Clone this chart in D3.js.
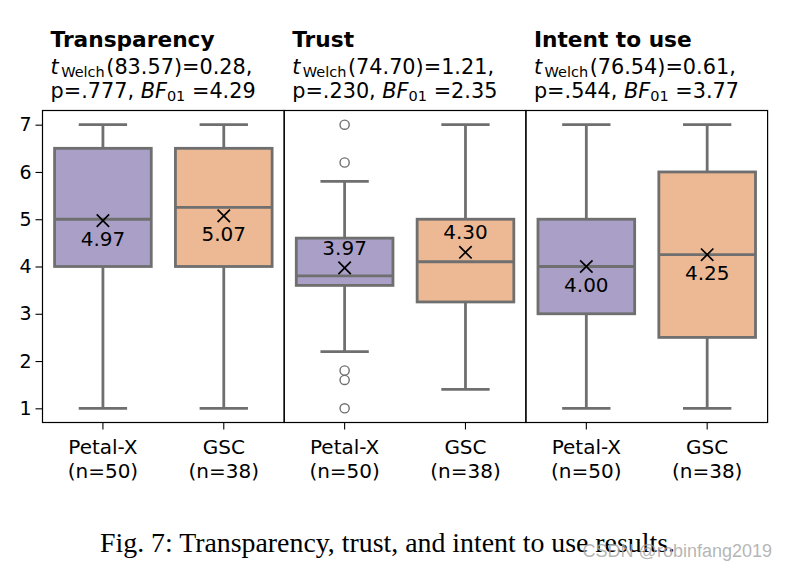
<!DOCTYPE html>
<html>
<head>
<meta charset="utf-8">
<script src="https://cdn.jsdelivr.net/npm/d3@7"></script>
<style>
  html, body { margin: 0; padding: 0; background: #ffffff; }
  svg { display: block; }
</style>
</head>
<body>
<svg id="chart" width="788" height="571"></svg>
<script>
// ---- data ----
const metrics = ["Transparency", "Trust", "Intent to use"];
const groups = ["Petal-X", "GSC"];
const groupN = [50, 38];
const welchDf = ["83.57", "74.70", "76.54"];
const welchT = ["0.28", "1.21", "0.61"];
const pValues = [".777", ".230", ".544"];
const bf01 = ["4.29", "2.35", "3.77"];
// per metric: [Petal-X, GSC]
const whiskerLow  = [[1, 1],     [2.2, 1.4],  [1, 1]];
const q1Values    = [[4, 4],     [3.6, 3.25], [3, 2.5]];
const medians     = [[5, 5.25],  [3.8, 4.1],  [4, 4.25]];
const q3Values    = [[6.5, 6.5], [4.6, 5.0],  [5, 6]];
const whiskerHigh = [[7, 7],     [5.8, 7],    [7, 7]];
const means       = [[4.97, 5.07], [3.97, 4.30], [4.00, 4.25]];
const outliers    = [[[], []], [[7, 6.2, 1.8, 1.6, 1.0], []], [[], []]];
const meanLabelAbove = [false, true, false];
const yTicks = [1, 2, 3, 4, 5, 6, 7];

// ---- layout ----
const svg = d3.select("#chart");
const colors = ["#aaa0c7", "#ecb994"];
const lineCol = "#6f6f6f";
const plotTop = 110.5, plotBottom = 422.5;
const left0 = 42.5, panelW = 241.7;

const y = d3.scaleLinear().domain([0.7, 7.3]).range([plotBottom, plotTop]);
const panelX = d3.scaleBand().domain(metrics).range([left0, left0 + 3 * panelW]).padding(0);

const fontSans = "'DejaVu Sans', sans-serif";

metrics.forEach((m, mi) => {
  const px = panelX(m);
  const x = d3.scaleBand().domain(groups).range([px, px + panelW]).padding(0);
  const bw = x.bandwidth() * 0.8;
  const g = svg.append("g");

  groups.forEach((grp, gi) => {
    const cx = x(grp) + x.bandwidth() / 2;
    const capW = bw / 2;
    g.append("line").attr("x1", cx).attr("x2", cx)
      .attr("y1", y(whiskerLow[mi][gi])).attr("y2", y(q1Values[mi][gi]))
      .attr("stroke", lineCol).attr("stroke-width", 2.8);
    g.append("line").attr("x1", cx).attr("x2", cx)
      .attr("y1", y(q3Values[mi][gi])).attr("y2", y(whiskerHigh[mi][gi]))
      .attr("stroke", lineCol).attr("stroke-width", 2.8);
    [whiskerLow[mi][gi], whiskerHigh[mi][gi]].forEach(v => {
      g.append("line").attr("x1", cx - capW / 2).attr("x2", cx + capW / 2)
        .attr("y1", y(v)).attr("y2", y(v))
        .attr("stroke", lineCol).attr("stroke-width", 2.8);
    });
    g.append("rect")
      .attr("x", cx - bw / 2).attr("width", bw)
      .attr("y", y(q3Values[mi][gi]))
      .attr("height", y(q1Values[mi][gi]) - y(q3Values[mi][gi]))
      .attr("fill", colors[gi]).attr("stroke", lineCol).attr("stroke-width", 2.8);
    g.append("line").attr("x1", cx - bw / 2).attr("x2", cx + bw / 2)
      .attr("y1", y(medians[mi][gi])).attr("y2", y(medians[mi][gi]))
      .attr("stroke", lineCol).attr("stroke-width", 2.8);
    outliers[mi][gi].forEach(v => {
      g.append("circle").attr("cx", cx).attr("cy", y(v)).attr("r", 4.6)
        .attr("fill", "none").attr("stroke", lineCol).attr("stroke-width", 1.4);
    });
    const my = y(means[mi][gi]);
    const s = 6.2;
    g.append("path")
      .attr("d", `M${cx - s},${my - s}L${cx + s},${my + s}M${cx - s},${my + s}L${cx + s},${my - s}`)
      .attr("stroke", "#000").attr("stroke-width", 1.7).attr("fill", "none");
    g.append("text")
      .attr("x", cx)
      .attr("y", meanLabelAbove[mi] ? my - 13 : my + 25.5)
      .attr("text-anchor", "middle")
      .attr("font-family", fontSans).attr("font-size", 20)
      .attr("fill", "#000")
      .text(means[mi][gi].toFixed(2));

    g.append("line").attr("x1", cx).attr("x2", cx).attr("y1", plotBottom).attr("y2", plotBottom + 7)
      .attr("stroke", "#000").attr("stroke-width", 1.1);
    const lbl = g.append("text").attr("text-anchor", "middle")
      .attr("font-family", fontSans).attr("font-size", 20).attr("fill", "#000");
    lbl.append("tspan").attr("x", cx).attr("y", 454).text(grp);
    lbl.append("tspan").attr("x", cx).attr("y", 477.5).text(`(n=${groupN[gi]})`);
  });

  g.append("rect").attr("x", px).attr("y", plotTop).attr("width", panelW).attr("height", plotBottom - plotTop)
    .attr("fill", "none").attr("stroke", "#000").attr("stroke-width", 1.2);

  const tx = px + 8;
  g.append("text").attr("x", tx).attr("y", 47)
    .attr("font-family", fontSans).attr("font-size", 21.7).attr("font-weight", "bold")
    .attr("fill", "#000").text(m);
  const st = g.append("text")
    .attr("font-family", fontSans).attr("font-size", 20.8).attr("fill", "#000");
  st.append("tspan").attr("x", tx).attr("y", 73.5).attr("font-style", "italic").text("t");
  st.append("tspan").attr("font-size", 14.5).attr("dx", 2.5).attr("dy", 3).text("Welch");
  st.append("tspan").attr("dy", -3).attr("dx", 1.5).text(`(${welchDf[mi]})=${welchT[mi]},`);
  st.append("tspan").attr("x", tx).attr("y", 97.5).text(`p=${pValues[mi]}, `);
  st.append("tspan").attr("font-style", "italic").text("BF");
  st.append("tspan").attr("font-size", 14.5).attr("dy", 3).text("01");
  st.append("tspan").attr("dy", -3).text(` =${bf01[mi]}`);
});

const yAxis = d3.axisLeft(y).tickValues(yTicks).tickSize(7).tickPadding(4).tickFormat(d3.format("d"));
const ya = svg.append("g").attr("transform", `translate(${left0},0)`).call(yAxis);
ya.select(".domain").remove();
ya.selectAll(".tick line").attr("stroke", "#000").attr("stroke-width", 1.1);
ya.selectAll(".tick text").attr("font-family", fontSans).attr("font-size", 19).attr("fill", "#000");

svg.append("text").attr("x", 100).attr("y", 552)
  .attr("font-family", "'Liberation Serif', 'Times New Roman', serif").attr("font-size", 27)
  .attr("textLength", 575).attr("lengthAdjust", "spacingAndGlyphs")
  .attr("fill", "#000").text("Fig. 7: Transparency, trust, and intent to use results.");
svg.append("text").attr("x", 772).attr("y", 557).attr("text-anchor", "end")
  .attr("font-family", "'Liberation Sans', Arial, sans-serif").attr("font-size", 18)
  .attr("fill", "#a8a8a8").attr("fill-opacity", 0.85).text("CSDN @robinfang2019");
</script>
</body>
</html>
